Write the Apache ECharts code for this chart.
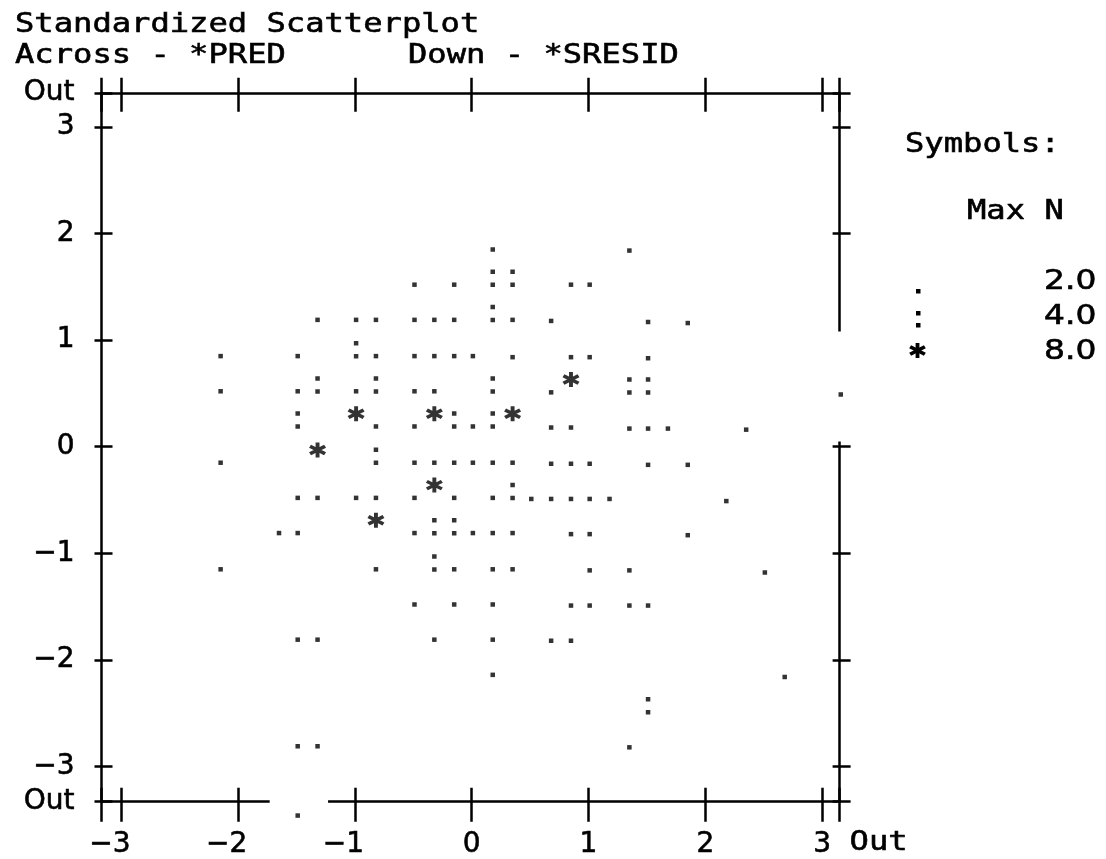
<!DOCTYPE html>
<html>
<head>
<meta charset="utf-8">
<title>Standardized Scatterplot</title>
<script src="https://cdn.jsdelivr.net/npm/echarts@6/dist/echarts.min.js"></script>
<style>
  html, body { margin: 0; padding: 0; background: #fff; }
  #chart { width: 1106px; height: 859px; }
</style>
</head>
<body>
<div id="chart"></div>
<script>
// axis ranges, the "Out" band sits on the frame
var xMin = -3.17, xMax = 3.15;
var yMin = -3.33, yMax = 3.32;
var tickValues = [-3, -2, -1, 0, 1, 2, 3];

// "."  -> up to 2 cases
var dotPoints = [
  [0.18, 1.85], [1.35, 1.84],
  [-0.49, 1.52], [-0.15, 1.52], [0.85, 1.52], [1.01, 1.52],
  [-1.32, 1.19], [-0.99, 1.19], [-0.82, 1.19], [-0.49, 1.19], [-0.32, 1.19], [-0.15, 1.19],
  [0.35, 1.19], [0.68, 1.18], [1.51, 1.17], [1.85, 1.16],
  [-2.15, 0.85], [-1.49, 0.85], [-0.82, 0.85], [-0.49, 0.85], [-0.32, 0.85], [-0.15, 0.85],
  [0.01, 0.85], [0.35, 0.84], [0.85, 0.84], [1.01, 0.84], [1.51, 0.83],
  [-2.15, 0.52], [-1.49, 0.52], [-0.99, 0.52], [-0.49, 0.52], [-0.32, 0.52], [0.68, 0.51],
  [3.16, 0.49],
  [-0.82, 0.19], [-0.49, 0.19], [0.01, 0.19], [0.68, 0.18], [0.85, 0.18], [1.35, 0.17],
  [1.51, 0.17], [1.68, 0.17], [2.35, 0.16],
  [-2.15, -0.15], [-0.49, -0.15], [-0.32, -0.15], [-0.15, -0.15], [0.01, -0.15], [0.18, -0.15],
  [0.35, -0.15], [0.68, -0.16], [0.85, -0.16], [1.01, -0.16], [1.51, -0.17], [1.85, -0.17],
  [-1.49, -0.48], [-1.32, -0.48], [-0.99, -0.48], [-0.82, -0.48], [-0.49, -0.48], [-0.15, -0.48],
  [0.18, -0.48], [0.51, -0.49], [0.68, -0.49], [0.85, -0.49], [1.01, -0.49], [1.18, -0.49],
  [2.18, -0.51],
  [-1.65, -0.81], [-1.49, -0.81], [-0.49, -0.81], [0.01, -0.81], [0.18, -0.81], [0.35, -0.81],
  [0.85, -0.82], [1.01, -0.82], [1.85, -0.83],
  [-2.15, -1.15], [-0.82, -1.15], [-0.15, -1.15], [0.18, -1.15], [0.35, -1.15], [1.01, -1.16],
  [1.35, -1.16], [2.51, -1.18],
  [-0.49, -1.48], [-0.15, -1.48], [0.18, -1.48], [0.85, -1.49], [1.01, -1.49], [1.35, -1.49],
  [1.51, -1.49],
  [-1.49, -1.81], [-1.32, -1.81], [-0.32, -1.81], [0.18, -1.81], [0.68, -1.82], [0.85, -1.82],
  [0.18, -2.14], [2.68, -2.16],
  [-1.49, -2.81], [-1.32, -2.81], [1.35, -2.82],
  [-1.49, -3.46]
];

// ":"  -> up to 4 cases
var colonPoints = [
  [0.18, 1.58], [0.35, 1.58],
  [0.18, 1.25],
  [-0.99, 0.91],
  [-1.32, 0.58], [-0.82, 0.58], [0.18, 0.58], [1.35, 0.57], [1.51, 0.57],
  [-1.49, 0.25], [-0.15, 0.25], [0.18, 0.25],
  [-0.82, -0.09],
  [0.35, -0.42],
  [-0.32, -0.75], [-0.15, -0.75],
  [-0.32, -1.09],
  [1.51, -2.43]
];

// "*"  -> up to 8 cases
var starPoints = [
  [0.85, 0.63],
  [-0.99, 0.31], [-0.32, 0.31], [0.35, 0.31],
  [-1.32, -0.03],
  [-0.32, -0.36],
  [-0.82, -0.69]
];

var legendLabels = ['2.0', '4.0', '8.0'];

// blank stretches of the frame in the original
var bottomGap = [-1.73, -1.23];
var rightGap = [0.05, 1.08];

var COLON = 'path://M0,0h4.5v4.5h-4.5zM0,13h4.5v4.5h-4.5z';
// asterisk made of three bars in a 16x16 box
var STAR_BARS = [
  [[6.2, 0], [9.8, 0], [9.8, 16], [6.2, 16]],
  [[1.972, 2.441], [15.828, 10.441], [14.028, 13.559], [0.172, 5.559]],
  [[14.028, 2.441], [15.828, 5.559], [1.972, 13.559], [0.172, 10.441]]
];
var STAR = 'path://' + STAR_BARS.map(function (bar) {
  return 'M' + bar.map(function (p) { return p[0] + ',' + p[1]; }).join('L') + 'Z';
}).join('');

var MONO = '"DejaVu Sans Mono", monospace';
var SANS = '"DejaVu Sans", sans-serif';
var tickStyle = { color: '#000', width: 2.5 };
var numStyle = { fontFamily: SANS, fontSize: 28, color: '#000', textBorderColor: '#000', textBorderWidth: 0.6 };

function fmtNum(v) {
  return v < 0 ? '\u2212' + (-v) : String(v);
}

function xAx(pos, inside, len, showLine, withLabels) {
  return {
    type: 'value', position: pos, min: xMin, max: xMax,
    splitLine: { show: false },
    axisLine: { show: showLine, onZero: false, lineStyle: tickStyle },
    axisTick: { show: true, inside: inside, length: len,
      customValues: [xMin].concat(tickValues, [xMax]), lineStyle: tickStyle },
    axisLabel: withLabels ? {
      show: true, margin: 29, color: '#000', fontFamily: SANS, fontSize: 28,
      textBorderColor: '#000', textBorderWidth: 0.6,
      showMinLabel: true, showMaxLabel: true, hideOverlap: false,
      customValues: tickValues,
      // digit sits under the tick, the minus hangs to the left
      formatter: function (v) {
        return v < 0 ? '{neg|' + fmtNum(v) + '}' : fmtNum(v);
      },
      rich: {
        neg: Object.assign({ padding: [0, 23, 0, 0] }, numStyle)
      }
    } : { show: false }
  };
}

function yAx(pos, inside, len, showLine, withLabels) {
  return {
    type: 'value', position: pos, min: yMin, max: yMax,
    splitLine: { show: false },
    axisLine: { show: showLine, onZero: false, lineStyle: tickStyle },
    axisTick: { show: true, inside: inside, length: len,
      customValues: [yMin].concat(tickValues, [yMax]), lineStyle: tickStyle },
    axisLabel: withLabels ? {
      show: true, margin: 27, color: '#000', fontFamily: SANS, fontSize: 28,
      textBorderColor: '#000', textBorderWidth: 0.6,
      showMinLabel: true, showMaxLabel: true,
      customValues: [yMin].concat(tickValues, [yMax]),
      formatter: function (v) {
        return Math.abs(v) > 3.05 ? 'Out' : fmtNum(v);
      }
    } : { show: false }
  };
}

function txt(s, x, y, family, sx) {
  return {
    type: 'text', x: x, y: y, scaleX: sx || 1.19, z: 5,
    style: { text: s, font: '27px ' + (family || MONO), fill: '#000', stroke: '#000', lineWidth: 0.6,
      textVerticalAlign: 'middle', verticalAlign: 'middle' }
  };
}

var labelGraphics = [
  txt('Standardized Scatterplot', 15, 25),
  txt('Across - *PRED', 15, 56),
  txt('Down - *SRESID', 408, 56),
  txt('Symbols:', 905, 145),
  txt('Max N', 967, 212),
  txt(legendLabels[0], 1044, 282, SANS, 1.22),
  txt(legendLabels[1], 1044, 317, SANS, 1.22),
  txt(legendLabels[2], 1044, 352, SANS, 1.22),
  { type: 'rect', z: 5, shape: { x: 916, y: 289, width: 4.5, height: 4.5 }, style: { fill: '#000' } },
  { type: 'rect', z: 5, shape: { x: 916, y: 311, width: 4.5, height: 4.5 }, style: { fill: '#000' } },
  { type: 'rect', z: 5, shape: { x: 916, y: 323, width: 4.5, height: 4.5 }, style: { fill: '#000' } }
].concat(STAR_BARS.map(function (bar) {
  return { type: 'polygon', z: 5, x: 909, y: 343, scaleX: 17 / 16, scaleY: 15 / 16,
    shape: { points: bar }, style: { fill: '#000' } };
}));

var chart = echarts.init(document.getElementById('chart'));
chart.setOption({
  animation: false,
  backgroundColor: '#fff',
  grid: { left: 101.5, right: 266.4, top: 92.8, bottom: 57.3, containLabel: false, outerBoundsMode: 'none' },
  xAxis: [
    xAx('bottom', false, 20, true, true),
    xAx('bottom', true, 14, false, false),
    xAx('top', false, 15, true, false),
    xAx('top', true, 19, false, false)
  ],
  yAxis: [
    yAx('left', false, 7, true, true),
    yAx('left', true, 11, false, false),
    yAx('right', true, 7, true, false),
    yAx('right', false, 11, false, false)
  ],
  series: [
    { name: legendLabels[0], type: 'scatter', data: dotPoints, symbol: 'rect', symbolSize: 4.5,
      itemStyle: { color: '#000' }, clip: false, silent: true, z: 10 },
    { name: legendLabels[1], type: 'scatter', data: colonPoints, symbol: COLON, symbolSize: [4.5, 17.5],
      itemStyle: { color: '#000' }, clip: false, silent: true, z: 10 },
    { name: legendLabels[2], type: 'scatter', data: starPoints, symbol: STAR, symbolSize: [17, 15],
      itemStyle: { color: '#000' }, clip: false, silent: true, z: 10 }
  ],
  graphic: labelGraphics
});

// white out the blank stretches of the frame, and put "Out" after the 3 on the x axis
var f = { xAxisIndex: 0, yAxisIndex: 0 };
var b1 = chart.convertToPixel(f, [bottomGap[0], yMin]);
var b2 = chart.convertToPixel(f, [bottomGap[1], yMin]);
var r1 = chart.convertToPixel(f, [xMax, rightGap[1]]);
var r2 = chart.convertToPixel(f, [xMax, rightGap[0]]);
var corner = chart.convertToPixel(f, [xMax, yMin]);
chart.setOption({
  graphic: labelGraphics.concat([
    { type: 'rect', z: 5, shape: { x: b1[0], y: b1[1] - 4, width: b2[0] - b1[0], height: 8 },
      style: { fill: '#fff' } },
    { type: 'rect', z: 5, shape: { x: r1[0] - 15, y: r1[1], width: 30, height: r2[1] - r1[1] },
      style: { fill: '#fff' } },
    txt('Out', corner[0] + 10, corner[1] + 41)
  ])
});
</script>
</body>
</html>
